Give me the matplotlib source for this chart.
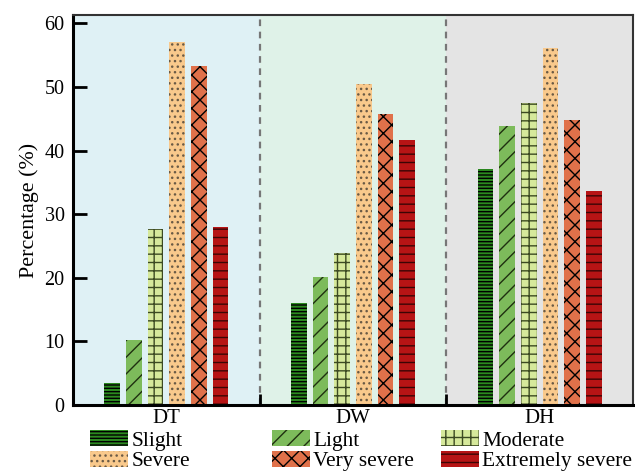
import matplotlib
matplotlib.use("Agg")
import matplotlib.pyplot as plt
import numpy as np

plt.rcParams['font.family'] = ['Liberation Serif', 'DejaVu Serif']
plt.rcParams['hatch.linewidth'] = 1.0

groups = ["DT", "DW", "DH"]
levels = ["Slight", "Light", "Moderate", "Severe", "Very severe", "Extremely severe"]
slight = [3.4, 16.0, 37.1]
light = [10.2, 20.1, 43.8]
moderate = [27.7, 23.9, 47.4]
severe = [57.1, 50.4, 56.1]
very_severe = [53.3, 45.7, 44.8]
extremely_severe = [28.0, 41.6, 33.6]
values = [slight, light, moderate, severe, very_severe, extremely_severe]

colors = ["#2b8a1f", "#7dbb5b", "#d6e99b", "#f9c98c", "#e0714a", "#b71415"]
hatches = ["-----", "//", "++", "...", "xx", "--"]
hatch_colors = ["black", "#1f3010", "#3c4a22", "#6a5a45", "black", "#3a0505"]
bg_colors = ["#dff1f5", "#dff2e8", "#e4e4e4"]

fig = plt.figure(figsize=(6.35, 4.72), dpi=100)
ax = fig.add_axes([73/635, 1-405/472, (633-73)/635, (405-15)/472])

x = np.arange(len(groups))
for i, c in enumerate(bg_colors):
    ax.axvspan(i-0.5, i+0.5, color=c, zorder=0, lw=0)
for d in [0.5, 1.5]:
    ax.axvline(d, color="#777777", ls=(0, (3, 2.5)), lw=1.6, zorder=1)

width = 0.083
step = 0.116
bars = []
for k, (vals, col, h, hc, lab) in enumerate(zip(values, colors, hatches, hatch_colors, levels)):
    pos = x + (k - 2.5) * step
    b = ax.bar(pos, vals, width=width, color=col, hatch=h, edgecolor=hc, lw=0, label=lab, zorder=2)
    bars.append(b)

ax.set_xlim(-0.5, 2.5)
ax.set_ylim(0, 61.3)
ax.set_yticks([0, 10, 20, 30, 40, 50, 60])
ax.tick_params(axis='y', direction='in', length=10, width=2, labelsize=14.5, pad=6)
ax.set_xticks([0.5, 1.5])
ax.set_xticklabels([])
ax.tick_params(axis='x', which='major', direction='in', length=8, width=2)
ax.set_xticks(x, minor=True)
ax.set_xticklabels(groups, minor=True)
ax.tick_params(axis='x', which='minor', length=0, labelsize=15, pad=3)
ax.set_ylabel("Percentage (%)", fontsize=15.8, labelpad=4)
for s in ['left', 'bottom']:
    ax.spines[s].set_linewidth(2.2)
for s in ['top', 'right']:
    ax.spines[s].set_linewidth(1.5)
    ax.spines[s].set_color('#333333')

col_x = [90/635, 272/635, 441/635]
pairs = [(0, 3), (1, 4), (2, 5)]
legs = []
for cx, (a, b) in zip(col_x, pairs):
    leg = fig.legend([bars[a], bars[b]], [levels[a], levels[b]], loc='upper left',
                     bbox_to_anchor=(cx, 1-430/472), frameon=False, fontsize=15.4,
                     handlelength=1.78, handleheight=0.8, handletextpad=0.15,
                     labelspacing=0.0, borderpad=0, borderaxespad=0)
    legs.append(leg)

fig.savefig("out.png", dpi=100)
